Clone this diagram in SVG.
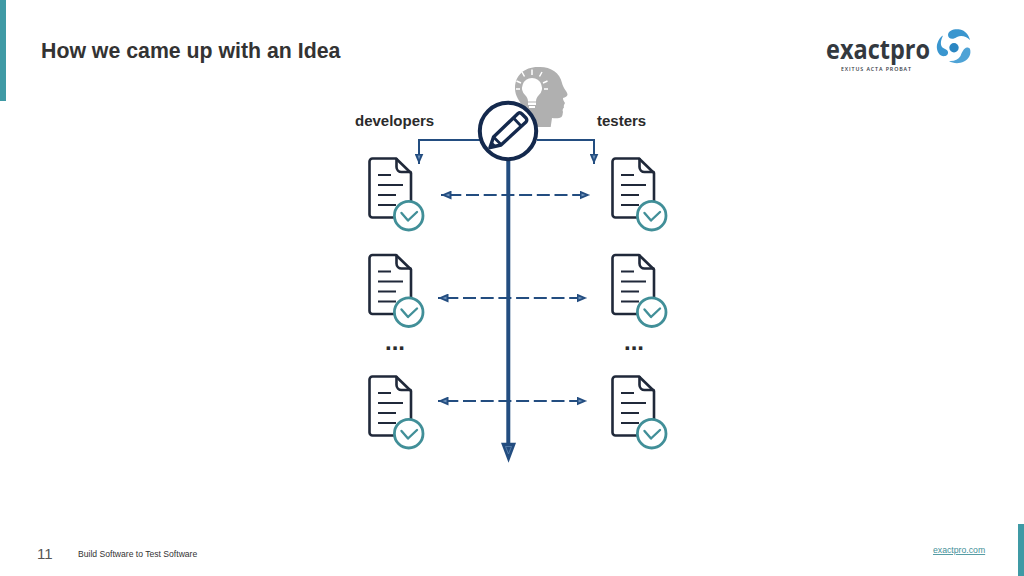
<svg xmlns="http://www.w3.org/2000/svg" width="1024" height="576" viewBox="0 0 1024 576">
<style>
text{font-family:"Liberation Sans",Arial,sans-serif}
.lbl{font-size:15px;font-weight:700;fill:#2b2b2b}
.dots{font-size:24px;font-weight:700;fill:#2b2b2b}
.conn{fill:none;stroke:#234d80;stroke-width:2}
.dash{fill:none;stroke:#234d80;stroke-width:2.200;stroke-dasharray:13 4.700;stroke-dashoffset:-7.300}
.doc{fill:#fff;stroke:#20293a;stroke-width:2.600;stroke-linejoin:round;stroke-linecap:round}
.fold{fill:none;stroke:#20293a;stroke-width:2.600;stroke-linejoin:round;stroke-linecap:round}
.txt{fill:none;stroke:#20293a;stroke-width:2.200}
.bad{fill:#fff;stroke:#418f98;stroke-width:2.800}
.chk{fill:none;stroke:#418f98;stroke-width:2.400;stroke-linecap:round;stroke-linejoin:round}
</style>
<defs>
<marker id="a" markerUnits="userSpaceOnUse" markerWidth="11" markerHeight="9" refX="10.500" refY="4.500" orient="auto-start-reverse" viewBox="0 0 11 9"><path d="M0 0L10.500 4.500L0 9Z" fill="#234d80"/><path d="M2 3L6 4.500L2 6Z" fill="#6f93bb"/></marker>
<g id="docicon">
<path class="doc" d="M372.500 158.500H396L411 173V214.500a3 3 0 0 1-3 3H372.500a3 3 0 0 1-3-3V161.500a3 3 0 0 1 3-3Z"/>
<path class="fold" d="M396.500 159V167a5 5 0 0 0 5 5H410.500"/>
<path class="txt" d="M378 175H391M378 185H403M378 195H396M378 205H396"/>
<circle class="bad" cx="408.700" cy="215.700" r="14.300"/>
<path class="chk" d="M401.500 213L408 220.500L417 212"/>
</g>
</defs>
<rect width="1024" height="576" fill="#fff"/>
<rect x="0" y="0" width="6" height="101" fill="#3f9aa5"/>
<rect x="1018" y="524" width="6" height="52" fill="#3f9aa5"/>
<text x="41" y="57.500" font-size="21.300" font-weight="700" fill="#333">How we came up with an Idea</text>
<g id="logo">
<text x="826" y="59" style="font-family:'Open Sans',sans-serif;font-weight:700;font-size:26px" fill="#33393f" textLength="104" lengthAdjust="spacingAndGlyphs">exactpro</text>
<text x="841" y="71" style="font-family:'Open Sans',sans-serif;font-weight:600;font-size:5.300px;letter-spacing:1px" fill="#33393f" textLength="71">EXITUS ACTA PROBAT</text>
<circle cx="954" cy="47.700" r="4.700" fill="#2a86c2"/>
<path d="M948 35C948 30 955 28.500 960 29.500C965 30.500 969 35 970 40C966 36 961 35 957 37C953 40 948 39 948 35Z" fill="#3a96cf"/>
<path d="M970 49C971.500 54 969 59 964 61.500C959 64 953 63.500 949 61C954 61.500 958 60 960.500 56C962 52 964 48 967 47.500C968.500 47.500 969.500 48 970 49Z" fill="#4fa3d6"/>
<path d="M948 52C948.500 56 944 57 941 55.500C937 53 936 47 937.500 43C938.500 39.500 941 36.500 943 35.500C941 40 940 44 942 47C944 49 947.500 49 948 52Z" fill="#3a96cf"/>
</g>
<g id="head">
<path d="M540 67C525 66 515 75 515 88C515 97 520 101 522 106C524 111 526 118 528 127H550.700L552 118C555 118.500 560 118.500 561.500 117C563 115 562.500 113 563 112C562 110 563 108.500 564 107.500C563.500 106 564 104.500 565 103C563.500 101 563 99.500 563 98C565 97.500 567.500 96.500 567.500 94.500C567.500 92 563 88 562 83C560 73 551 67 540 67Z" fill="#b0b0b0"/>
<path d="M532 78a10 10 0 0 1 6.500 17.500c-1.500 1.500-2.500 3.500-2.500 6h-8c0-2.500-1-4.500-2.500-6a10 10 0 0 1 6.500-17.500Z" fill="#fff"/>
<rect x="528" y="102.500" width="8" height="2.500" fill="#fff"/><rect x="529" y="106" width="6" height="2" fill="#fff"/>
<path d="M532 69.500V75M522 72L524.500 76.500M542 72L539.500 76.500M516.500 81L521 83M547.500 81L543 83M516 89H520M544 89H548" stroke="#fff" stroke-width="1.500" fill="none"/>
</g>
<g id="connectors">
<path class="conn" d="M480 140H419V164" marker-end="url(#a)"/>
<path class="conn" d="M537 140H594V164" marker-end="url(#a)"/>
<path class="dash" d="M441 195H590" marker-start="url(#a)" marker-end="url(#a)"/>
<path class="dash" d="M438 298H587" marker-start="url(#a)" marker-end="url(#a)"/>
<path class="dash" d="M438 401H587" marker-start="url(#a)" marker-end="url(#a)"/>
<path d="M508.300 158V447" fill="none" stroke="#234d80" stroke-width="4"/>
<path d="M501 442.700H516L508.500 462.700Z" fill="#234d80"/>
<path d="M505.500 446.500H511.500L508.500 454Z" fill="none" stroke="#5f86b3" stroke-width="0.800"/>
</g>
<g id="pencil-node">
<circle cx="508" cy="131" r="28.200" fill="#fff" stroke="#14294d" stroke-width="4"/>
<path d="M490 147.500L493.500 137L518 113.500Q520 112 522 114L526 118Q527.500 120 526 122L501 145Z" fill="none" stroke="#14294d" stroke-width="3.400" stroke-linejoin="round"/>
<path d="M513.500 118L521.500 126.500M494 137.500L501 144.500" fill="none" stroke="#14294d" stroke-width="2.800"/>
<path d="M490 147.500L492 141.500L496.500 146Z" fill="#14294d"/>
</g>
<text class="lbl" x="355" y="126">developers</text>
<text class="lbl" x="597" y="125.500">testers</text>
<g id="doc-dev-1"><use href="#docicon"/></g>
<g id="doc-dev-2"><use href="#docicon" y="96.500"/></g>
<g id="doc-dev-3"><use href="#docicon" y="218"/></g>
<g id="doc-test-1"><use href="#docicon" x="243"/></g>
<g id="doc-test-2"><use href="#docicon" x="243" y="96.500"/></g>
<g id="doc-test-3"><use href="#docicon" x="243" y="218"/></g>
<text class="dots" x="385" y="350">...</text>
<text class="dots" x="624" y="350">...</text>
<text x="37" y="559" font-size="15" fill="#555">11</text>
<text x="78" y="557" font-size="8.600" fill="#333">Build Software to Test Software</text>
<text x="933" y="553" font-size="8.700" fill="#3f8f98" text-decoration="underline">exactpro.com</text>
</svg>
